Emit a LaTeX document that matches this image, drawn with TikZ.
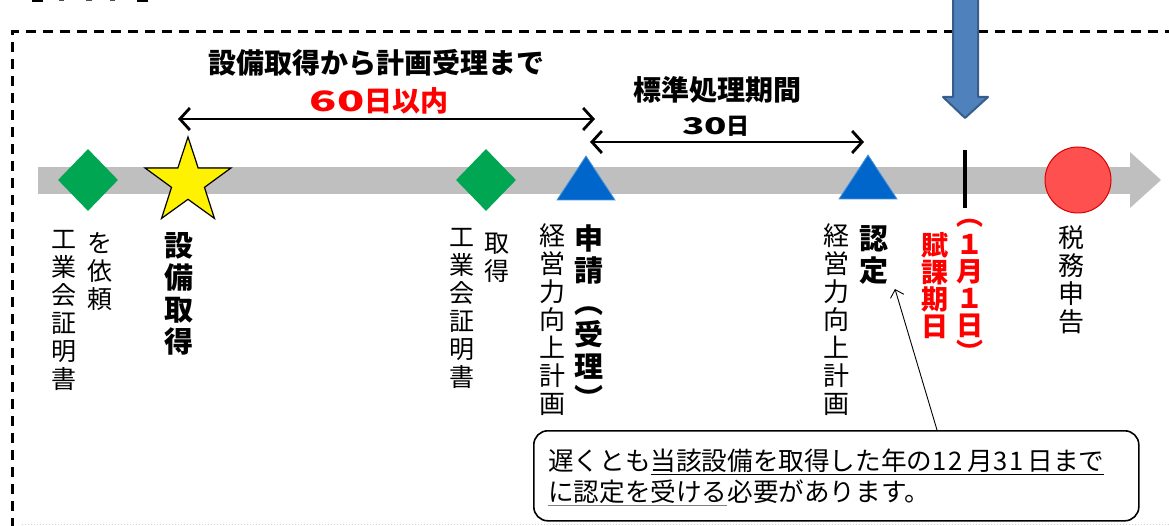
\documentclass[tikz,border=0pt]{standalone}
\usepackage{fontspec}
\setmainfont{Noto Sans CJK JP}
\usetikzlibrary{shapes.geometric,arrows.meta}
\definecolor{bargray}{RGB}{191,191,191}
\definecolor{dgreen}{RGB}{0,166,81}
\definecolor{mblue}{RGB}{0,102,204}
\definecolor{ablue}{RGB}{79,129,189}
\definecolor{ablueedge}{RGB}{56,93,138}
\definecolor{cred}{RGB}{255,80,80}
\begin{document}
\begin{tikzpicture}[x=1pt,y=-1pt,
  vreg/.style={anchor=north, align=center, inner sep=0pt, font=\fontsize{25}{28}\selectfont},
  vbold/.style={anchor=north, align=center, inner sep=0pt, font=\fontsize{29}{32}\selectfont\bfseries},
  title/.style={inner sep=0pt, font=\fontsize{28}{30}\selectfont\bfseries},
  dbl/.style={{Straight Barb[length=10pt,width=22pt]}-{Straight Barb[length=10pt,width=22pt]}, line width=2.8pt},
  gdiamond/.style={diamond, fill=dgreen, minimum width=60pt, minimum height=62pt, inner sep=0pt},
  btri/.style={fill=mblue, draw=mblue!70!white, line width=0.8pt}
]
\useasboundingbox (0,0) rectangle (1169,526);

% frame
\draw[line width=3pt, dash pattern=on 10pt off 7pt] (12,545) -- (12,32) -- (1185,32);
\draw[gray!35, dotted, line width=1pt] (22,524) -- (1169,524);

% cut-off heading (only the lowest edge of its glyphs is visible)
\fill (32,-1) rectangle (43,2);
\fill (137,-1) rectangle (148,2);
\fill[black!70] (59,-1) rectangle (64,1);
\fill[black!70] (86,-1) rectangle (92,1);
\fill[black!70] (110,-1) rectangle (115,1);

% timeline bar
\fill[bargray] (38,167) rectangle (1131,194);
\fill[bargray] (1130,152) -- (1161,180) -- (1130,208) -- cycle;

% markers
\node[gdiamond] (d1) at (88,180) {};
\node[star, star points=5, star point ratio=2.6, minimum size=90pt, fill=yellow, draw=black, line width=1.2pt, inner sep=0pt] (star) at (188,182) {};
\node[gdiamond] (d2) at (486,180) {};
\fill[btri] (557,200) -- (586,156) -- (615,200) -- cycle;
\coordinate (t1) at (586,156);
\fill[btri] (839,199) -- (868,155) -- (897,199) -- cycle;
\coordinate (t2) at (868,155);
\draw[line width=3.2pt] (965,150) -- (965,208);
\node[circle, fill=cred, draw=red!85!black, line width=1pt, minimum size=66pt, inner sep=0pt] (tax) at (1078,180) {};

% blue down arrow
\filldraw[fill=ablue, draw=ablueedge, line width=2pt, line join=round] (953,-10) -- (953,97) -- (943,97) -- (965,118) -- (988,97) -- (978,97) -- (978,-10) -- cycle;

% span arrows
\coordinate (s1a) at (178,119);
\coordinate (s1b) at (595,119);
\draw[dbl] (s1a) -- (s1b);
\coordinate (s2a) at (590,142);
\coordinate (s2b) at (864,142);
\draw[dbl] (s2a) -- (s2b);

\node[title] (ttl1) at (376,63) {設備取得から計画受理まで};
\node[title, text=red] (ttl1b) at (379,101) {\scalebox{1.6}[1]{60}日以内};
\node[title] (ttl2) at (717,90) {標準処理期間};
\node[inner sep=0pt, font=\fontsize{23}{25}\selectfont\bfseries] (ttl2b) at (716,126) {\scalebox{1.6}[1]{30}日};

% vertical labels
\node[vreg] (l1a) at (64,230) {工\\業\\会\\証\\明\\書};
\node[vreg] (l1b) at (100,232) {を\\依\\頼};
\node[vbold] (l2) at (179,232) {設\\備\\取\\得};
\node[vreg] (l3a) at (462,228) {工\\業\\会\\証\\明\\書};
\node[vreg] (l3b) at (497,233) {取\\得};
\node[vreg, font=\fontsize{26}{28}\selectfont] (l4a) at (552,223) {経\\営\\力\\向\\上\\計\\画};
\node[vbold] (l4b) at (589,225) {申\\請\\︵\\受\\理\\︶};
\node[vreg, font=\fontsize{26}{28}\selectfont] (l5a) at (836,223) {経\\営\\力\\向\\上\\計\\画};
\node[vbold] (l5b) at (874,225) {認\\定};
\node[vbold, text=red, font=\fontsize{27}{27}\selectfont\bfseries] (l6a) at (935,232) {賦\\課\\期\\日};
\node[vbold, text=red, font=\fontsize{27}{27}\selectfont\bfseries] (l6b) at (970,206) {\strut︵\\１\\月\\１\\日\\︶};
\node[vreg, font=\fontsize{26}{28}\selectfont] (l7) at (1071,225) {税\\務\\申\\告};

% callout
\node[draw, rounded corners=14pt, line width=1.6pt, minimum width=605pt, minimum height=90pt, anchor=north west, inner sep=0pt] (callout) at (533,430) {};
\node[anchor=north west, align=left, inner sep=0pt, font=\fontsize{25.6}{31}\selectfont] (ctext) at (548,449)
  {遅くとも\underline{当該設備を取得した年の1\kern2pt 2\kern5pt 月3\kern2pt 1\kern4pt 日まで}\\
   {\color{gray}\underline{\color{black}に認定を受ける}}必要があります。};
\coordinate (cp) at (937,430);
\coordinate (ctip) at (895,289);
\draw[line width=0.9pt, -{Straight Barb[length=7pt,width=14pt]}] (cp) -- (ctip);
\end{tikzpicture}
\end{document}
